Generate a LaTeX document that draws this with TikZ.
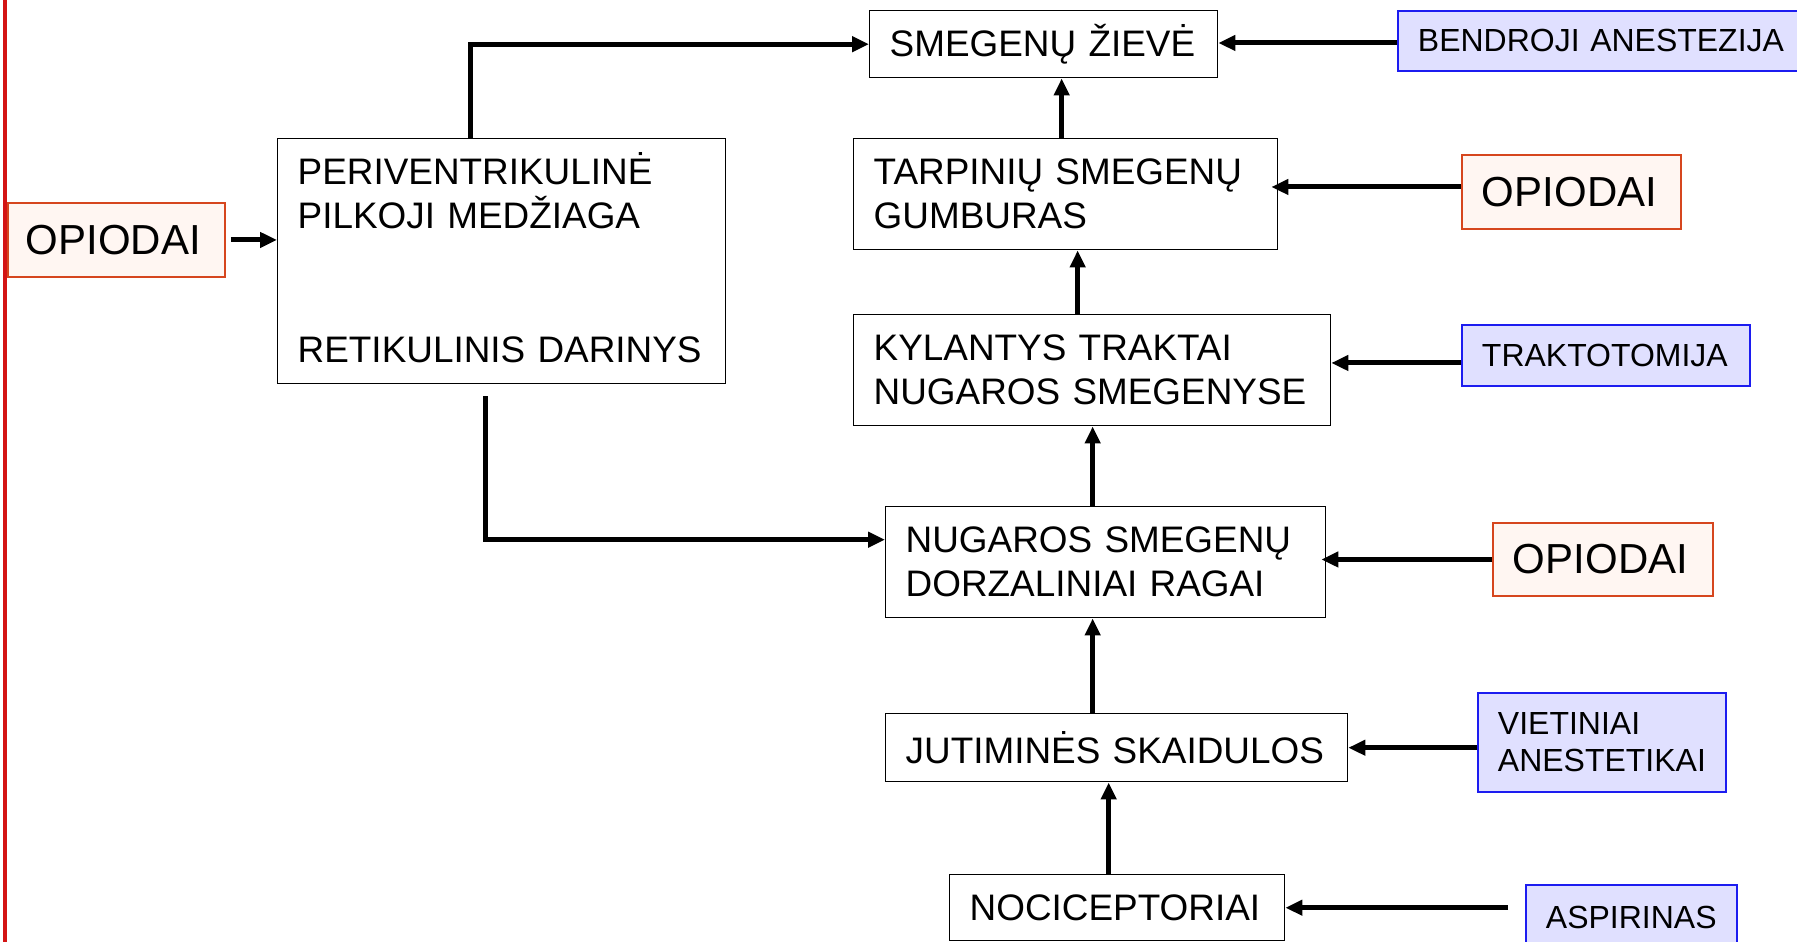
\documentclass[tikz,border=0pt]{standalone}
\usepackage{fontspec}
\setmainfont{Liberation Sans}
\usetikzlibrary{arrows.meta}

\definecolor{raudona}{RGB}{212,20,20}
\definecolor{oranzine}{RGB}{214,70,30}
\definecolor{rausva}{RGB}{255,246,242}
\definecolor{melyna}{RGB}{28,28,240}
\definecolor{levanda}{RGB}{224,224,255}

\tikzset{
  blokas/.style={draw=black, line width=0.8pt, fill=white, anchor=north west,
    inner xsep=0.4cm, inner ysep=0pt, align=left,
    font=\fontsize{21pt}{25pt}\selectfont},
  dydis/.style 2 args={text width=#1, minimum height=#2},
  vaistas/.style={blokas, draw=melyna, fill=levanda, line width=1.1pt,
    font=\fontsize{18.2pt}{21pt}\selectfont},
  opioidas/.style={blokas, draw=oranzine, fill=rausva, line width=1.1pt,
    font=\fontsize{23.9pt}{28pt}\selectfont},
  rodykle/.style={line width=0.1cm, -{Triangle[length=0.34cm, width=0.3cm]}},
}

\begin{document}
\begin{tikzpicture}[x=0.02cm, y=-0.02cm]
    \useasboundingbox (0,0) rectangle (1797,942);
    \clip (0,0) rectangle (1797,942);

    % Red margin line on the left
    \draw[raudona, line width=0.1cm] (5,0) -- (5,942);

    % Pathway boxes, top to bottom
    \node[blokas, dydis={6.16cm}{1.34cm}] (smeg) at (869,10) {SMEGENŲ ŽIEVĖ};
    \node[blokas, dydis={8.16cm}{4.9cm}] (periv) at (277,138)
        {PERIVENTRIKULINĖ\\PILKOJI MEDŽIAGA\\[1.8cm]RETIKULINIS DARINYS\rule[-0.14cm]{0pt}{0.14cm}};
    \node[blokas, dydis={7.68cm}{2.22cm}] (tarp) at (853,138) {TARPINIŲ SMEGENŲ\\GUMBURAS};
    \node[blokas, dydis={8.74cm}{2.22cm}] (kyl) at (853,314) {KYLANTYS TRAKTAI\\NUGAROS SMEGENYSE};
    \node[blokas, dydis={8.0cm}{2.22cm}] (nug) at (885,506) {NUGAROS SMEGENŲ\\DORZALINIAI RAGAI};
    \node[blokas, dydis={8.44cm}{1.36cm}] (jut) at (885,713) {JUTIMINĖS SKAIDULOS};
    \node[blokas, dydis={5.9cm}{1.32cm}] (noci) at (949,874) {NOCICEPTORIAI};

    % Drugs and interventions
    \node[opioidas, dydis={3.62cm}{1.48cm}, inner xsep=0.36cm] (op1) at (7,202) {OPIODAI};
    \node[vaistas, dydis={7.8cm}{1.2cm}] (bend) at (1397,10) {BENDROJI ANESTEZIJA};
    \node[opioidas, dydis={3.58cm}{1.48cm}] (op2) at (1461,154) {OPIODAI};
    \node[vaistas, dydis={4.96cm}{1.22cm}] (trak) at (1461,324) {TRAKTOTOMIJA};
    \node[opioidas, dydis={3.6cm}{1.46cm}] (op3) at (1492,522) {OPIODAI};
    \node[vaistas, dydis={4.16cm}{1.98cm}] (viet) at (1477,692) {VIETINIAI\\ANESTETIKAI};
    \node[vaistas, dydis={3.42cm}{1.3cm}] (asp) at (1525,884) {ASPIRINAS};

    % Ascending signal
    \draw[rodykle] ([xshift=-0.17cm]noci.north) -- ([xshift=-0.17cm]noci.north |- jut.south);
    \draw[rodykle] ([xshift=-0.48cm]jut.north) -- ([xshift=-0.48cm]jut.north |- nug.south);
    \draw[rodykle] ([xshift=-0.26cm]nug.north) -- ([xshift=-0.26cm]nug.north |- kyl.south);
    \draw[rodykle] ([xshift=-0.29cm]kyl.north) -- ([xshift=-0.29cm]kyl.north |- tarp.south);
    \draw[rodykle] ([xshift=-0.08cm]tarp.north) -- ([xshift=-0.08cm]tarp.north |- smeg.south);

    % Descending control
    \draw[rodykle] ([xshift=-0.62cm]periv.north) |- (smeg.west);
    \draw[rodykle] ([xshift=-0.32cm, yshift=-0.24cm]periv.south) |- ([yshift=0.45cm]nug.west);

    % Where the drugs act
    \draw[rodykle, shorten <=0.1cm] (op1.east) -- (op1.east -| periv.west);
    \draw[rodykle] ([yshift=-0.04cm]bend.west) -- ([yshift=-0.04cm]bend.west -| smeg.east);
    \draw[rodykle, shorten >=-0.14cm] ([yshift=0.1cm]op2.west) -- ([yshift=0.1cm]op2.west -| tarp.east);
    \draw[rodykle] ([yshift=-0.15cm]trak.west) -- ([yshift=-0.15cm]trak.west -| kyl.east);
    \draw[rodykle, shorten >=-0.1cm] (op3.west) -- (op3.west -| nug.east);
    \draw[rodykle] (viet.west |- jut.east) -- (jut.east);
    \draw[rodykle, shorten <=0.34cm] (asp.west |- noci.east) -- (noci.east);

\end{tikzpicture}
\end{document}
